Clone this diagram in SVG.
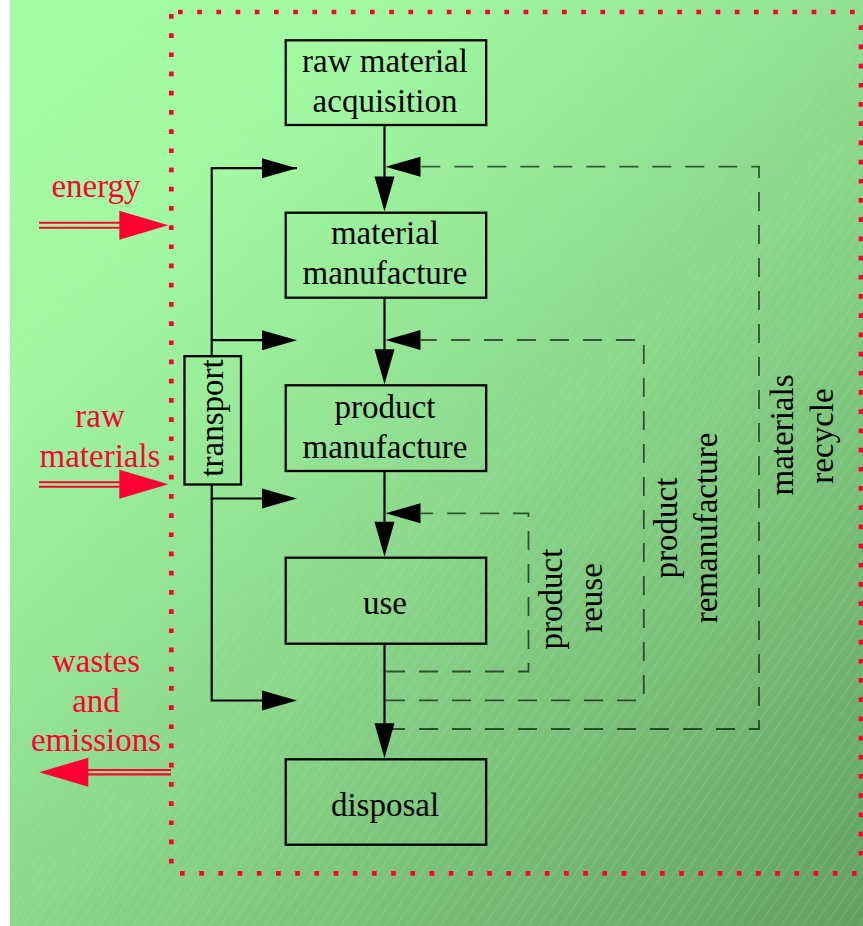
<svg xmlns="http://www.w3.org/2000/svg" xmlns:xlink="http://www.w3.org/1999/xlink" width="863" height="926" viewBox="0 0 863 926">
<style>
.box{fill:none;stroke:#000;stroke-width:2.3}
.lbl{font-family:"Liberation Serif","Times New Roman",serif;font-size:33px;fill:#000;text-anchor:middle}
.red{font-family:"Liberation Serif","Times New Roman",serif;font-size:33px;fill:#ff0033;text-anchor:middle}
.ln{fill:none;stroke:#000;stroke-width:2.2}
.dash{fill:none;stroke:#000;stroke-opacity:0.62;stroke-width:1.8;stroke-dasharray:19 14}
.rl{fill:none;stroke:#ff0033;stroke-width:2.1}
.dot{fill:none;stroke:#ff0033;stroke-width:4.7;stroke-dasharray:4.7 14.5}
</style>
<defs>
<linearGradient id="bg" gradientUnits="userSpaceOnUse" x1="10" y1="0" x2="863" y2="926">
<stop offset="0" stop-color="#a4fea4"/>
<stop offset="0.22" stop-color="#a1f9a1"/>
<stop offset="0.55" stop-color="#8bd68b"/>
<stop offset="1" stop-color="#62a062"/>
</linearGradient>
<pattern id="hatch" patternUnits="userSpaceOnUse" width="9" height="9" patternTransform="rotate(35)">
<line x1="0" y1="0" x2="0" y2="9" stroke="#b0ffb0" stroke-opacity="0.35" stroke-width="1"/>
</pattern>
<path id="ah" d="M0,0 L-35,-10 L-35,10 Z" fill="#000"/>
<path id="rah" d="M0,0 L-49,-14.5 L-49,14.5 Z" fill="#ff0033"/>
</defs>
<rect x="0" y="0" width="863" height="926" fill="#fff"/>
<rect x="10" y="0" width="853" height="926" fill="url(#bg)"/>
<rect x="10" y="0" width="853" height="926" fill="url(#hatch)"/>

<g id="boundary">
<line class="dot" x1="178" y1="12" x2="858" y2="12"/>
<line class="dot" x1="171.3" y1="14" x2="171.3" y2="866"/>
<line class="dot" x1="861" y1="25.3" x2="861" y2="860"/>
<line class="dot" x1="180" y1="873.3" x2="860" y2="873.3"/>
</g>

<g id="connectors">
<!-- main flow -->
<line class="ln" x1="384.5" y1="125" x2="384.5" y2="200"/>
<use xlink:href="#ah" transform="translate(384.5,211.5) rotate(90)"/>
<line class="ln" x1="384.5" y1="298" x2="384.5" y2="373"/>
<use xlink:href="#ah" transform="translate(384.5,384.3) rotate(90)"/>
<line class="ln" x1="384.5" y1="471" x2="384.5" y2="546"/>
<use xlink:href="#ah" transform="translate(384.5,556.7) rotate(90)"/>
<line class="ln" x1="384.5" y1="644" x2="384.5" y2="748"/>
<use xlink:href="#ah" transform="translate(384.5,758.3) rotate(90)"/>
<!-- return loops -->
<path class="dash" d="M386,729 H759 V166.7 H421"/>
<use xlink:href="#ah" transform="translate(385.5,166.7) rotate(180)"/>
<path class="dash" d="M386,700.3 H643.8 V340 H421"/>
<use xlink:href="#ah" transform="translate(385.5,340) rotate(180)"/>
<path class="dash" d="M386,671.5 H528.5 V513.3 H421"/>
<use xlink:href="#ah" transform="translate(385.5,513.3) rotate(180)"/>
<!-- transport -->
<path class="ln" d="M297,168.2 H211.7 V356.2"/>
<line class="ln" x1="211.7" y1="340.2" x2="285" y2="340.2"/>
<path class="ln" d="M211.7,484.5 V700.5 H285"/>
<line class="ln" x1="211.7" y1="498.5" x2="285" y2="498.5"/>
<use xlink:href="#ah" transform="translate(297,168.2)"/>
<use xlink:href="#ah" transform="translate(297,340.2)"/>
<use xlink:href="#ah" transform="translate(297,498.5)"/>
<use xlink:href="#ah" transform="translate(297,700.5)"/>
<!-- red inputs / outputs -->
<line class="rl" x1="39" y1="222.8" x2="125" y2="222.8"/>
<line class="rl" x1="39" y1="227.8" x2="125" y2="227.8"/>
<use xlink:href="#rah" transform="translate(168.3,225.2)"/>
<line class="rl" x1="39" y1="482.2" x2="125" y2="482.2"/>
<line class="rl" x1="39" y1="486.7" x2="125" y2="486.7"/>
<use xlink:href="#rah" transform="translate(168.3,484.3)"/>
<line class="rl" x1="84" y1="770" x2="171" y2="770"/>
<line class="rl" x1="84" y1="774.4" x2="171" y2="774.4"/>
<use xlink:href="#rah" transform="translate(39.3,772.2) rotate(180)"/>
</g>

<g id="raw-material-acquisition">
<rect class="box" x="285.7" y="40.3" width="200.5" height="84.7"/>
<text class="lbl" x="385" y="72">raw material</text>
<text class="lbl" x="385" y="112">acquisition</text>
</g>
<g id="material-manufacture">
<rect class="box" x="285.7" y="212.7" width="200.5" height="85"/>
<text class="lbl" x="385" y="244.3">material</text>
<text class="lbl" x="385" y="284.3">manufacture</text>
</g>
<g id="product-manufacture">
<rect class="box" x="285.7" y="385.3" width="200.5" height="85.7"/>
<text class="lbl" x="385" y="418.3">product</text>
<text class="lbl" x="385" y="457.7">manufacture</text>
</g>
<g id="use">
<rect class="box" x="285.7" y="557.7" width="200.5" height="86"/>
<text class="lbl" x="385" y="614">use</text>
</g>
<g id="disposal">
<rect class="box" x="285.7" y="759.3" width="200.5" height="85.4"/>
<text class="lbl" x="385" y="816">disposal</text>
</g>
<g id="transport">
<rect class="box" x="184.5" y="356.2" width="56.5" height="128.3"/>
<text class="lbl" transform="translate(222.5,418) rotate(-90)">transport</text>
</g>
<g id="loop-labels">
<text class="lbl" transform="translate(562,599) rotate(-90)">product</text>
<text class="lbl" transform="translate(602,598) rotate(-90)">reuse</text>
<text class="lbl" transform="translate(677,528) rotate(-90)">product</text>
<text class="lbl" transform="translate(717,528) rotate(-90)">remanufacture</text>
<text class="lbl" transform="translate(793,435) rotate(-90)">materials</text>
<text class="lbl" transform="translate(833,436) rotate(-90)">recycle</text>
</g>
<g id="flows">
<text class="red" x="96" y="197">energy</text>
<text class="red" x="100" y="426.7">raw</text>
<text class="red" x="100" y="466.7">materials</text>
<text class="red" x="96" y="671.7">wastes</text>
<text class="red" x="96" y="711.7">and</text>
<text class="red" x="96" y="751">emissions</text>
</g>
</svg>
